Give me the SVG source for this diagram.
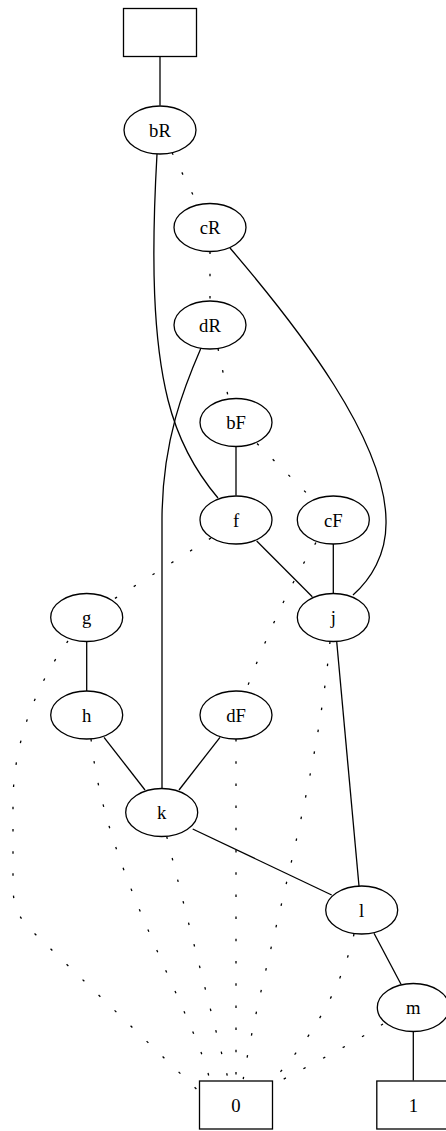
<svg xmlns="http://www.w3.org/2000/svg" width="446" height="1131" viewBox="0 0 446 1131">
<style>
.n ellipse, .n rect { fill: #ffffff; stroke: #000000; stroke-width: 1.3; }
.n text { font-family: "Liberation Serif", "Times New Roman", serif; font-size: 18.67px; text-anchor: middle; fill: #000000; }
.e path { fill: none; stroke: #000000; stroke-width: 1.3; }
.e path.d { stroke-dasharray: 2.5,19.7; }
</style>
<rect x="0" y="0" width="446" height="1131" fill="#ffffff"/>
<g id="edges" class="e">
  <path d="M160,56.5 L160,105.5"/>
  <path d="M157,154 C151,260 153,340 168,400 C178,440 196,472 218,498"/>
  <path d="M230,248 C300,330 385,440 386,520 C387,555 370,580 353,595"/>
  <path d="M201,348 C185,385 162,440 162,520 L162,788"/>
  <path d="M236,446.5 L236,495.5"/>
  <path d="M256.7,541 L312.3,596.7"/>
  <path d="M333.3,543.5 L333.3,593.5"/>
  <path d="M86.7,641.5 L86.7,691"/>
  <path d="M104,737.3 L145,790"/>
  <path d="M220,737.3 L179,790"/>
  <path d="M192.7,829 L331.7,895"/>
  <path d="M336.7,641.5 L359,886"/>
  <path d="M374,933.3 L401,984.3"/>
  <path d="M413.3,1031.5 L413.3,1080.5"/>
  <path class="d" d="M172,152.5 L198,205"/>
  <path class="d" d="M210,251.5 L210,301"/>
  <path class="d" d="M218,348.5 L228.5,398.5"/>
  <path class="d" d="M257,443.5 L313,499.5"/>
  <path class="d" d="M211,538 L114,599"/>
  <path class="d" d="M316,542.5 Q280,600 246,690.5"/>
  <path class="d" d="M68,641 C45,672 14,730 13,800 L13,890 Q14,915 32,931 L199.5,1092"/>
  <path class="d" d="M91,739 C100,820 130,890 170,980 C195,1035 205,1060 210,1080.5"/>
  <path class="d" d="M166.7,836.5 L228.5,1080.5"/>
  <path class="d" d="M236,739 L236,1080.5"/>
  <path class="d" d="M330,641.5 C315,800 265,950 243,1080.5"/>
  <path class="d" d="M354,934 C345,975 320,1030 272.5,1080.5"/>
  <path class="d" d="M383,1024 C350,1045 310,1065 272.5,1085"/>
</g>
<g id="root" class="n"><rect x="123.5" y="8.5" width="73" height="48"/></g>
<g id="bR" class="n"><ellipse cx="160" cy="130" rx="36" ry="24"/><text x="160" y="136.5">bR</text></g>
<g id="cR" class="n"><ellipse cx="210" cy="227.5" rx="36" ry="24"/><text x="210" y="234">cR</text></g>
<g id="dR" class="n"><ellipse cx="210" cy="325" rx="36" ry="24"/><text x="210" y="331.5">dR</text></g>
<g id="bF" class="n"><ellipse cx="236" cy="422.5" rx="36" ry="24"/><text x="236" y="429">bF</text></g>
<g id="f" class="n"><ellipse cx="236" cy="520" rx="36" ry="24"/><text x="236" y="526.5">f</text></g>
<g id="cF" class="n"><ellipse cx="333.3" cy="520" rx="36" ry="24"/><text x="333.3" y="526.5">cF</text></g>
<g id="g" class="n"><ellipse cx="86.7" cy="617.5" rx="36" ry="24"/><text x="86.7" y="624">g</text></g>
<g id="j" class="n"><ellipse cx="333.3" cy="617.5" rx="36" ry="24"/><text x="333.3" y="624">j</text></g>
<g id="h" class="n"><ellipse cx="86.7" cy="715" rx="36" ry="24"/><text x="86.7" y="721.5">h</text></g>
<g id="dF" class="n"><ellipse cx="236" cy="715" rx="36" ry="24"/><text x="236" y="721.5">dF</text></g>
<g id="k" class="n"><ellipse cx="161.7" cy="812.5" rx="36" ry="24"/><text x="161.7" y="819">k</text></g>
<g id="l" class="n"><ellipse cx="361.7" cy="910" rx="36" ry="24"/><text x="361.7" y="916.5">l</text></g>
<g id="m" class="n"><ellipse cx="413.3" cy="1007.5" rx="36" ry="24"/><text x="413.3" y="1014">m</text></g>
<g id="zero" class="n"><rect x="199.5" y="1081" width="73" height="48"/><text x="236" y="1111.5">0</text></g>
<g id="one" class="n"><rect x="376.8" y="1081" width="73" height="48"/><text x="413.3" y="1111.5">1</text></g>
</svg>
